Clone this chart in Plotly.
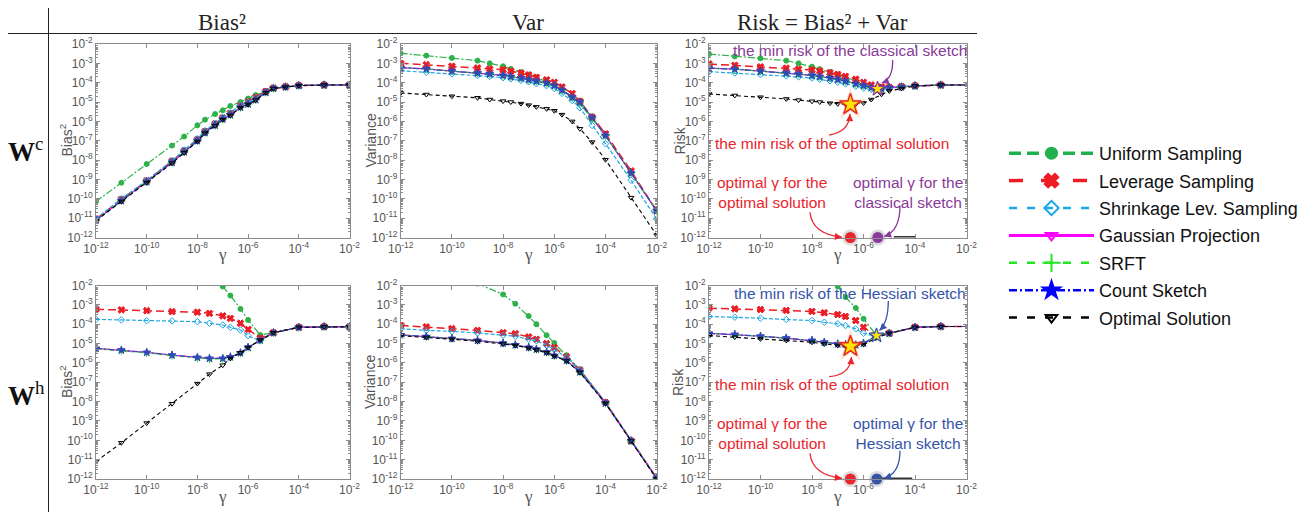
import plotly.graph_objects as go

W, H = 1316, 512
# the page places the figure 8px from the top-left corner; layout positions below are
# given in screenshot pixels and shifted by this offset
OFF = 8

# ---------------- data (gamma grids and log10 of values) ----------------
gamma_c = [1e-12, 1e-11, 1e-10, 1e-9, 3e-9, 1e-8, 2e-8, 5e-8, 1e-7, 2e-7, 5e-7,
           1e-6, 2e-6, 5e-6, 1e-5, 3e-5, 1e-4, 1e-3, 1e-2]
gamma_h = [1e-12, 1e-11, 1e-10, 1e-9, 1e-8, 3e-8, 1e-7, 2e-7, 5e-7, 1e-6, 3e-6,
           1e-5, 1e-4, 1e-3, 1e-2]

series_names = ["Uniform Sampling", "Leverage Sampling", "Shrinkage Lev. Sampling",
                "Gaussian Projection", "SRFT", "Count Sketch", "Optimal Solution"]

# W^c  Bias^2  (log10)
bias_c_uniform = [-10.14, -9.17, -8.2, -7.25, -6.78, -6.2, -5.91, -5.62, -5.43, -5.2, -5.0, -4.82, -4.64, -4.47, -4.31, -4.2, -4.15, -4.12, -4.12]
bias_c_leverage = [-11.05, -10.03, -9.07, -8.06, -7.52, -6.94, -6.52, -6.13, -5.82, -5.58, -5.18, -4.98, -4.76, -4.45, -4.28, -4.21, -4.15, -4.12, -4.12]
bias_c_shrinkage = [-11.02, -10.0, -9.05, -8.03, -7.48, -6.9, -6.48, -6.1, -5.8, -5.56, -5.16, -5.0, -4.78, -4.46, -4.28, -4.21, -4.15, -4.12, -4.12]
bias_c_gaussian = [-11.1, -10.1, -9.12, -8.12, -7.58, -7.0, -6.58, -6.2, -5.88, -5.66, -5.27, -5.1, -4.88, -4.5, -4.29, -4.22, -4.15, -4.12, -4.12]
bias_c_srft = [-11.1, -10.1, -9.12, -8.12, -7.58, -7.0, -6.58, -6.2, -5.88, -5.66, -5.27, -5.1, -4.88, -4.5, -4.29, -4.22, -4.15, -4.12, -4.12]
bias_c_count = [-11.1, -10.1, -9.12, -8.12, -7.58, -7.0, -6.58, -6.2, -5.88, -5.66, -5.27, -5.1, -4.88, -4.5, -4.29, -4.22, -4.15, -4.12, -4.12]
bias_c_optimal = [-11.13, -10.14, -9.17, -8.16, -7.62, -7.04, -6.61, -6.23, -5.91, -5.69, -5.3, -5.13, -4.9, -4.52, -4.3, -4.23, -4.15, -4.12, -4.12]

# W^c  Var  (log10)
var_c_uniform = [-2.48, -2.6, -2.72, -2.86, -3.0, -3.15, -3.29, -3.45, -3.58, -3.72, -3.95, -4.12, -4.4, -4.78, -5.09, -5.87, -6.73, -8.67, -10.62]
var_c_leverage = [-3.0, -3.07, -3.15, -3.24, -3.29, -3.33, -3.4, -3.5, -3.6, -3.72, -3.85, -3.98, -4.22, -4.56, -4.96, -5.78, -6.64, -8.56, -10.62]
var_c_shrinkage = [-3.38, -3.46, -3.55, -3.63, -3.68, -3.74, -3.8, -3.88, -3.96, -4.05, -4.15, -4.3, -4.55, -4.92, -5.3, -6.21, -7.15, -9.04, -11.05]
var_c_gaussian = [-3.22, -3.29, -3.4, -3.5, -3.55, -3.62, -3.68, -3.76, -3.84, -3.92, -4.02, -4.15, -4.38, -4.75, -5.0, -5.81, -6.73, -8.67, -10.62]
var_c_srft = [-3.22, -3.29, -3.4, -3.5, -3.55, -3.62, -3.68, -3.76, -3.84, -3.92, -4.02, -4.15, -4.38, -4.75, -5.0, -5.81, -6.73, -8.67, -10.62]
var_c_count = [-3.22, -3.29, -3.4, -3.5, -3.55, -3.62, -3.68, -3.76, -3.84, -3.92, -4.02, -4.15, -4.38, -4.75, -5.0, -5.81, -6.73, -8.67, -10.62]
var_c_optimal = [-4.53, -4.61, -4.7, -4.78, -4.87, -4.95, -5.0, -5.08, -5.16, -5.25, -5.35, -5.45, -5.65, -6.0, -6.38, -7.07, -7.98, -9.94, -11.88]

# W^c  Risk  (log10)
risk_c_uniform = [-2.52, -2.64, -2.74, -2.86, -3.0, -3.17, -3.3, -3.45, -3.58, -3.72, -3.9, -4.08, -4.2, -4.27, -4.25, -4.2, -4.16, -4.12, -4.12]
risk_c_leverage = [-3.03, -3.1, -3.18, -3.25, -3.3, -3.34, -3.4, -3.48, -3.57, -3.67, -3.82, -3.98, -4.12, -4.22, -4.24, -4.2, -4.16, -4.12, -4.12]
risk_c_shrinkage = [-3.43, -3.5, -3.58, -3.65, -3.7, -3.76, -3.82, -3.9, -3.98, -4.06, -4.18, -4.28, -4.35, -4.35, -4.28, -4.22, -4.16, -4.12, -4.12]
risk_c_gaussian = [-3.25, -3.3, -3.4, -3.5, -3.55, -3.62, -3.68, -3.75, -3.83, -3.92, -4.05, -4.15, -4.25, -4.3, -4.25, -4.22, -4.16, -4.12, -4.12]
risk_c_srft = [-3.25, -3.3, -3.4, -3.5, -3.55, -3.62, -3.68, -3.75, -3.83, -3.92, -4.05, -4.15, -4.25, -4.3, -4.25, -4.22, -4.16, -4.12, -4.12]
risk_c_count = [-3.25, -3.3, -3.4, -3.5, -3.55, -3.62, -3.68, -3.75, -3.83, -3.92, -4.05, -4.15, -4.25, -4.3, -4.25, -4.22, -4.16, -4.12, -4.12]
risk_c_optimal = [-4.58, -4.66, -4.75, -4.84, -4.9, -4.96, -5.0, -5.06, -5.09, -5.12, -5.1, -5.05, -4.87, -4.6, -4.43, -4.3, -4.17, -4.12, -4.12]

# W^h  Bias^2  (log10)
bias_h_uniform = [None, None, None, None, None, None, -2.05, -2.52, -3.21, -3.78, -4.56, -4.44, -4.16, -4.13, -4.13]
bias_h_leverage = [-3.23, -3.26, -3.3, -3.35, -3.38, -3.44, -3.57, -3.7, -3.95, -4.27, -4.72, -4.44, -4.16, -4.13, -4.13]
bias_h_shrinkage = [-3.75, -3.78, -3.82, -3.83, -3.87, -3.95, -4.04, -4.16, -4.3, -4.6, -4.86, -4.44, -4.16, -4.13, -4.13]
bias_h_gaussian = [-5.25, -5.34, -5.46, -5.6, -5.72, -5.77, -5.77, -5.69, -5.48, -5.2, -4.82, -4.44, -4.16, -4.13, -4.13]
bias_h_srft = [-5.27, -5.36, -5.48, -5.62, -5.74, -5.79, -5.79, -5.7, -5.49, -5.2, -4.82, -4.44, -4.16, -4.13, -4.13]
bias_h_count = [-5.25, -5.34, -5.46, -5.6, -5.72, -5.77, -5.77, -5.69, -5.48, -5.2, -4.82, -4.44, -4.16, -4.13, -4.13]
bias_h_optimal = [-11.1, -10.13, -9.11, -8.11, -7.07, -6.58, -6.12, -5.77, -5.48, -5.2, -4.82, -4.44, -4.16, -4.13, -4.13]

# W^h  Var  (log10)
var_h_uniform = [None, None, None, -1.9, -2.46, -2.94, -3.58, -4.0, -4.57, -4.97, -5.6, -6.34, -8.05, -10.03, -11.95]
var_h_leverage = [-4.06, -4.14, -4.23, -4.32, -4.44, -4.49, -4.66, -4.78, -5.0, -5.21, -5.69, -6.37, -8.05, -10.03, -11.95]
var_h_shrinkage = [-4.23, -4.32, -4.37, -4.45, -4.57, -4.62, -4.78, -4.86, -5.09, -5.31, -5.72, -6.34, -8.05, -10.03, -11.95]
var_h_gaussian = [-4.55, -4.64, -4.74, -4.84, -4.98, -5.07, -5.2, -5.29, -5.44, -5.62, -5.88, -6.47, -8.08, -10.03, -11.98]
var_h_srft = [-4.55, -4.64, -4.74, -4.84, -4.98, -5.07, -5.2, -5.29, -5.44, -5.62, -5.88, -6.47, -8.08, -10.03, -11.98]
var_h_count = [-4.55, -4.64, -4.74, -4.84, -4.98, -5.07, -5.2, -5.29, -5.44, -5.62, -5.88, -6.47, -8.08, -10.03, -11.98]
var_h_optimal = [-4.6, -4.68, -4.78, -4.88, -5.02, -5.1, -5.24, -5.33, -5.48, -5.65, -5.9, -6.49, -8.09, -10.04, -12.0]

# W^h  Risk  (log10)
risk_h_uniform = [None, None, None, None, None, None, -2.05, -2.6, -3.16, -3.72, -4.53, -4.47, -4.16, -4.12, -4.12]
risk_h_leverage = [-3.17, -3.21, -3.24, -3.29, -3.34, -3.41, -3.5, -3.6, -3.81, -4.16, -4.59, -4.47, -4.16, -4.12, -4.12]
risk_h_shrinkage = [-3.6, -3.64, -3.69, -3.76, -3.81, -3.9, -3.98, -4.07, -4.24, -4.47, -4.64, -4.47, -4.16, -4.12, -4.12]
risk_h_gaussian = [-4.47, -4.53, -4.62, -4.72, -4.84, -4.93, -5.02, -5.05, -5.07, -4.98, -4.62, -4.47, -4.16, -4.12, -4.12]
risk_h_srft = [-4.47, -4.53, -4.62, -4.72, -4.84, -4.93, -5.02, -5.05, -5.07, -4.98, -4.62, -4.47, -4.16, -4.12, -4.12]
risk_h_count = [-4.47, -4.53, -4.62, -4.72, -4.84, -4.93, -5.02, -5.05, -5.07, -4.98, -4.62, -4.47, -4.16, -4.12, -4.12]
risk_h_optimal = [-4.59, -4.67, -4.76, -4.84, -4.93, -5.02, -5.1, -5.14, -5.1, -5.05, -4.72, -4.47, -4.16, -4.12, -4.12]

# highlighted minima (gamma, risk) and the bottom interval markers
min_c_optimal = [3.1e-7, 7.4e-6]
min_c_classical = [3.5e-6, 4.8e-5]
min_h_optimal = [3.1e-7, 7.2e-6]
min_h_hessian = [3.2e-6, 2.6e-5]
opt_gamma_c = [3.1e-7, 3.6e-6]     # optimal solution, classical sketch
opt_gamma_h = [3.1e-7, 3.3e-6]     # optimal solution, Hessian sketch
gamma_band_c = [1.5e-5, 1.05e-4]
gamma_band_h = [4.5e-6, 7.8e-5]
axis_floor = 1e-12

# ---------------- styles ----------------
AX = "#8c8c8c"
TXT = "#555555"
RED = "#E8262C"
PURPLE = "#8A3A98"
BLUE = "#3554A8"
SANS = "Liberation Sans, Arial, sans-serif"
SERIF = "Liberation Serif, Times New Roman, serif"

plot_style = [
    dict(color="#2DB24A", dash="7px,2px,2px,2px", symbol="circle", size=5, lw=1.2),
    dict(color="#EC1C24", dash="8px,4px", symbol="x", size=6, lw=1.5),
    dict(color="#1BA6E3", dash="4px,2px", symbol="diamond-open", size=5, lw=1.2),
    dict(color="#FF00FF", dash="solid", symbol="triangle-down-open", size=5, lw=1.2),
    dict(color="#22DD22", dash="4px,3px", symbol="cross-thin-open", size=6, lw=1.2),
    dict(color="#2E4AB5", dash="6px,2px,2px,2px", symbol="star", size=6, lw=1.2),
    dict(color="#000000", dash="4px,3px", symbol="triangle-down-open", size=5, lw=1.1),
]
legend_style = [
    dict(color="#22B14C", dash="12px,6px", symbol="circle", size=11, lw=3.5),
    dict(color="#EE1C24", dash="14px,18px", symbol="x", size=12, lw=3.5),
    dict(color="#1CA8E3", dash="8px,10px", symbol="diamond-open", size=11, lw=2.5),
    dict(color="#FF00FF", dash="solid", symbol="triangle-down-open", size=10, lw=3),
    dict(color="#22E622", dash="8px,10px", symbol="cross-thin-open", size=13, lw=2.5),
    dict(color="#0000FF", dash="8px,3px,2px,3px", symbol="star", size=13, lw=2.5),
    dict(color="#000000", dash="8px,10px", symbol="triangle-down-open", size=10, lw=2.5),
]

panels = [
    (gamma_c, [bias_c_uniform, bias_c_leverage, bias_c_shrinkage, bias_c_gaussian, bias_c_srft, bias_c_count, bias_c_optimal]),
    (gamma_c, [var_c_uniform, var_c_leverage, var_c_shrinkage, var_c_gaussian, var_c_srft, var_c_count, var_c_optimal]),
    (gamma_c, [risk_c_uniform, risk_c_leverage, risk_c_shrinkage, risk_c_gaussian, risk_c_srft, risk_c_count, risk_c_optimal]),
    (gamma_h, [bias_h_uniform, bias_h_leverage, bias_h_shrinkage, bias_h_gaussian, bias_h_srft, bias_h_count, bias_h_optimal]),
    (gamma_h, [var_h_uniform, var_h_leverage, var_h_shrinkage, var_h_gaussian, var_h_srft, var_h_count, var_h_optimal]),
    (gamma_h, [risk_h_uniform, risk_h_leverage, risk_h_shrinkage, risk_h_gaussian, risk_h_srft, risk_h_count, risk_h_optimal]),
]


def px(x):
    return (x - OFF) / W


def py(y):
    return 1 - (y - OFF) / H


def ax_names(i):
    s = "" if i == 0 else str(i + 1)
    return "x" + s, "y" + s


fig = go.Figure()

for i, (gam, series) in enumerate(panels):
    xa, ya = ax_names(i)
    for k, vals in enumerate(series):
        st = plot_style[k]
        yv = [None if v is None else 10 ** v for v in vals]
        fig.add_trace(go.Scatter(
            x=gam, y=yv, xaxis=xa, yaxis=ya, mode="lines+markers",
            name=series_names[k], showlegend=False, connectgaps=False,
            line=dict(color=st["color"], dash=st["dash"], width=st["lw"]),
            marker=dict(symbol=st["symbol"], size=st["size"], color=st["color"],
                        line=dict(color=st["color"], width=1))))

# legend-only entries
for k, name in enumerate(series_names):
    st = legend_style[k]
    fig.add_trace(go.Scatter(
        x=[None], y=[None], mode="lines+markers", name=name, showlegend=True,
        legendgroup=name,
        line=dict(color=st["color"], dash=st["dash"], width=st["lw"]),
        marker=dict(symbol=st["symbol"], size=st["size"], color=st["color"],
                    line=dict(color=st["color"], width=2))))


# risk-panel highlights
def add_marks(i, star_opt, star_sk, dots, band, sk_color):
    xa, ya = ax_names(i)
    fig.add_trace(go.Scatter(x=[band[0], band[1]], y=[axis_floor, axis_floor], xaxis=xa, yaxis=ya,
                             mode="lines", line=dict(color="#333333", width=3),
                             showlegend=False, cliponaxis=False, hoverinfo="skip"))
    fig.add_trace(go.Scatter(x=[star_opt[0]], y=[star_opt[1]], xaxis=xa, yaxis=ya, mode="markers",
                             marker=dict(symbol="star", size=24, color="rgba(255,140,40,0.30)"),
                             showlegend=False, hoverinfo="skip"))
    fig.add_trace(go.Scatter(x=[star_opt[0]], y=[star_opt[1]], xaxis=xa, yaxis=ya, mode="markers",
                             marker=dict(symbol="star", size=16, color="#FFE500",
                                         line=dict(color=RED, width=1.5)),
                             showlegend=False, hoverinfo="skip"))
    fig.add_trace(go.Scatter(x=[star_sk[0]], y=[star_sk[1]], xaxis=xa, yaxis=ya, mode="markers",
                             marker=dict(symbol="star", size=11, color="#FFE500",
                                         line=dict(color=sk_color, width=1.2)),
                             showlegend=False, hoverinfo="skip"))
    fig.add_trace(go.Scatter(x=dots, y=[axis_floor, axis_floor], xaxis=xa, yaxis=ya, mode="markers",
                             marker=dict(symbol="circle", size=16, color="rgba(120,120,120,0.25)"),
                             showlegend=False, cliponaxis=False, hoverinfo="skip"))
    fig.add_trace(go.Scatter(x=dots, y=[axis_floor, axis_floor], xaxis=xa, yaxis=ya, mode="markers",
                             marker=dict(symbol="circle", size=11, color=[RED, sk_color]),
                             showlegend=False, cliponaxis=False, hoverinfo="skip"))


add_marks(2, min_c_optimal, min_c_classical, opt_gamma_c, gamma_band_c, PURPLE)
add_marks(5, min_h_optimal, min_h_hessian, opt_gamma_h, gamma_band_h, BLUE)

# ---------------- axes ----------------
xdom = [[px(96), px(349.5)], [px(400.7), px(656.7)], [px(709), px(966.5)]]
ydom = [[py(237.5), py(44)], [py(479), py(285.5)]]
decades = [10.0 ** e for e in range(-12, -1)]
dec_text = ["10<sup>%d</sup>" % e for e in range(-12, -1)]
xt = [10.0 ** e for e in range(-12, -1, 2)]
xtt = ["10<sup>%d</sup>" % e for e in range(-12, -1, 2)]
minor_vals = [m * 10.0 ** e for e in range(-12, -2) for m in range(2, 10)]

layout_axes = {}
for i in range(6):
    r, c = divmod(i, 3)
    xa, ya = ax_names(i)
    xk = "xaxis" + ("" if i == 0 else str(i + 1))
    yk = "yaxis" + ("" if i == 0 else str(i + 1))
    layout_axes[xk] = dict(type="log", range=[-12, -2], domain=xdom[c], anchor=ya,
                           showline=True, linecolor=AX, linewidth=1, mirror="allticks",
                           ticks="inside", ticklen=4, tickcolor=AX, tickvals=xt, ticktext=xtt,
                           tickfont=dict(family=SANS, size=12, color=TXT),
                           showgrid=False, zeroline=False, fixedrange=True, automargin=False)
    layout_axes[yk] = dict(type="log", range=[-12, -2], domain=ydom[r], anchor=xa,
                           showline=True, linecolor=AX, linewidth=1, mirror="allticks",
                           ticks="inside", ticklen=4, tickcolor=AX, tickvals=decades, ticktext=dec_text,
                           tickfont=dict(family=SANS, size=12, color=TXT),
                           minor=dict(ticks="inside", ticklen=2, tickcolor=AX, tickvals=minor_vals),
                           showgrid=False, zeroline=False, fixedrange=True, automargin=False)

fig.update_layout(**layout_axes)

# ---------------- text ----------------
ann = []


def text(x, y, s, size, color, family=SANS, angle=0, yanchor="middle", **kw):
    ann.append(dict(x=px(x), y=py(y), xref="paper", yref="paper", text=s, showarrow=False,
                    font=dict(size=size, color=color, family=family), textangle=angle,
                    xanchor="center", yanchor=yanchor, **kw))


# column titles (top-anchored at the visible top edge of the page)
text(222, 8.5, "Bias²", 23, "#222222", SERIF, yanchor="top", borderpad=0)
text(528, 8.5, "Var", 23, "#222222", SERIF, yanchor="top", borderpad=0)
text(823, 8.5, "Risk = Bias² + Var", 23, "#222222", SERIF, yanchor="top", borderpad=0)
# row labels
text(25, 150, "<b>W</b><sup>c</sup>", 27, "#111111", SERIF)
text(26, 394, "<b>W</b><sup>h</sup>", 27, "#111111", SERIF)
# axis titles
for yc, xs in [(140.5, [66, 370, 679]), (382, [66, 370, 678])]:
    text(xs[0], yc, "Bias<sup>2</sup>", 14, TXT, angle=-90)
    text(xs[1], yc, "Variance", 14, TXT, angle=-90)
    text(xs[2], yc, "Risk", 14, TXT, angle=-90)
for yc in [254, 496]:
    for xc in [222.7, 528.7, 837.7]:
        text(xc, yc, "γ", 17, TXT, SERIF)

# risk annotations
AS = 15.5
text(850, 50.5, "the min risk of the classical sketch", AS, PURPLE)
text(831.7, 143.5, "the min risk of the optimal solution", AS, RED)
text(771.7, 192.5, "optimal γ for the<br>optimal solution", AS, RED)
text(908, 192.5, "optimal γ for the<br>classical sketch", AS, PURPLE)
text(850, 293.5, "the min risk of the Hessian sketch", AS, BLUE)
text(831.7, 384, "the min risk of the optimal solution", AS, RED)
text(771.7, 433.5, "optimal γ for the<br>optimal solution", AS, RED)
text(908.3, 433.5, "optimal γ for the<br>Hessian sketch", AS, BLUE)

shapes = []
# separator lines
shapes.append(dict(type="line", xref="paper", yref="paper", x0=px(48.5), x1=px(48.5), y0=py(0), y1=py(520),
                   line=dict(color="#222222", width=1)))
shapes.append(dict(type="line", xref="paper", yref="paper", x0=px(5), x1=px(977), y0=py(33.5), y1=py(33.5),
                   line=dict(color="#222222", width=1)))

arrows = [
    ((892.7, 60), (893, 79), (881.7, 83), PURPLE),
    ((829.3, 135), (849, 132), (850, 114), RED),
    ((810, 212.3), (812, 234), (842, 237.3), RED),
    ((900, 206), (900, 231), (884, 236.5), PURPLE),
    ((888.3, 301), (888.3, 322), (879.5, 330.5), BLUE),
    ((829.3, 376.7), (850, 375), (851.5, 357), RED),
    ((810, 453.3), (812, 475), (842, 478.3), RED),
    ((900, 450.7), (900, 473.5), (884, 478.3), BLUE),
]
for (t, cpt, hd, col) in arrows:
    shapes.append(dict(type="path", xref="paper", yref="paper",
                       path="M %f,%f Q %f,%f %f,%f" % (px(t[0]), py(t[1]), px(cpt[0]), py(cpt[1]),
                                                        px(hd[0]), py(hd[1])),
                       line=dict(color=col, width=1.3)))
    dx, dy = cpt[0] - hd[0], cpt[1] - hd[1]
    n = (dx * dx + dy * dy) ** 0.5
    ann.append(dict(x=px(hd[0]), y=py(hd[1]), xref="paper", yref="paper", text="",
                    showarrow=True, arrowhead=2, arrowsize=1.1, arrowwidth=1.3, arrowcolor=col,
                    ax=dx / n * 7, ay=dy / n * 7, standoff=0))

fig.update_layout(
    width=W, height=H, autosize=False,
    margin=dict(l=0, r=0, t=0, b=0, pad=0, autoexpand=False),
    paper_bgcolor="white", plot_bgcolor="white",
    annotations=ann, shapes=shapes,
    legend=dict(x=px(1004), y=py(135), xanchor="left", yanchor="top",
                font=dict(family=SANS, size=18, color="#111111"),
                itemwidth=85, bgcolor="rgba(0,0,0,0)", tracegroupgap=1,
                traceorder="grouped"),
    showlegend=True,
)

fig.write_html("out.html")
